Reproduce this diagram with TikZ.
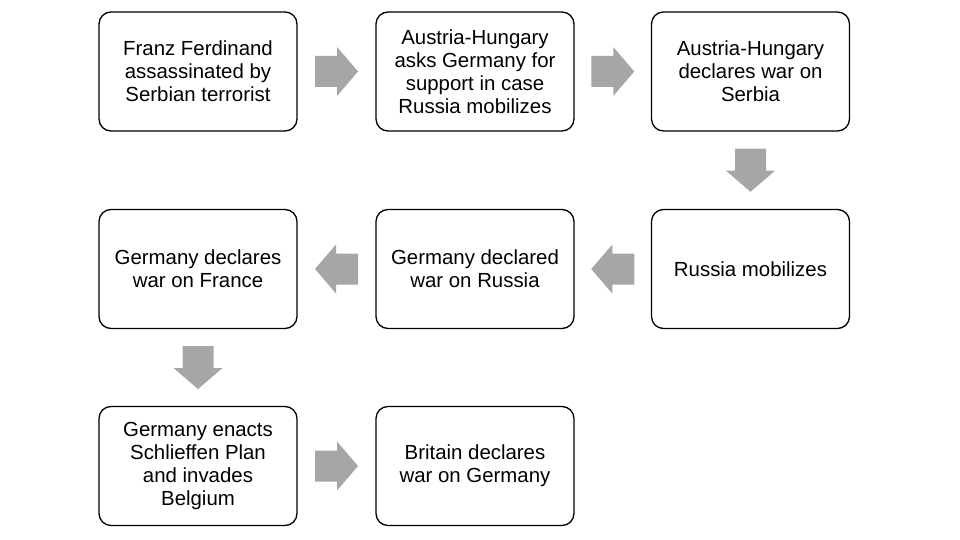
\documentclass[tikz,border=0pt]{standalone}
\usepackage{fontspec}
\setmainfont{Liberation Sans}
\usetikzlibrary{calc}
\definecolor{arrgray}{HTML}{A6A6A6}
\tikzset{
  x=1pt,y=-1pt,
  stepbox/.style={draw=black,line width=1.3pt,rounded corners=12pt,
    minimum width=198pt,minimum height=119pt,align=center,
    font=\fontsize{20.4pt}{23pt}\selectfont,inner sep=0pt},
  blockarrow/.pic={
    \fill[arrgray] (-21.5,-15.5) -- (0.5,-15.5) -- (0.5,-24.5) -- (21.5,0)
      -- (0.5,24.5) -- (0.5,15.5) -- (-21.5,15.5) -- cycle;
  }
}
\begin{document}
\begin{tikzpicture}
\useasboundingbox (0,0) rectangle (960,540);
\node[stepbox] (b1) at (198,71.5) {Franz Ferdinand\\assassinated by\\Serbian terrorist};
\node[stepbox] (b2) at (475,71.5) {Austria-Hungary\\asks Germany for\\support in case\\Russia mobilizes};
\node[stepbox] (b3) at (750.5,71.5) {Austria-Hungary\\declares war on\\Serbia};
\node[stepbox] (b4) at (750.5,269) {Russia mobilizes};
\node[stepbox] (b5) at (475,269) {Germany declared\\war on Russia};
\node[stepbox] (b6) at (198,269) {Germany declares\\war on France};
\node[stepbox] (b7) at (198,466) {Germany enacts\\Schlieffen Plan\\and invades\\Belgium};
\node[stepbox] (b8) at (475,466) {Britain declares\\war on Germany};
\pic at ($(b1.east)!0.5!(b2.west)$) {blockarrow};
\pic at ($(b2.east)!0.5!(b3.west)$) {blockarrow};
\pic[rotate=-90] at ($(b3.south)!0.5!(b4.north)$) {blockarrow};
\pic[rotate=180] at ($(b4.west)!0.5!(b5.east)$) {blockarrow};
\pic[rotate=180] at ($(b5.west)!0.5!(b6.east)$) {blockarrow};
\pic[rotate=-90] at ($(b6.south)!0.5!(b7.north)$) {blockarrow};
\pic at ($(b7.east)!0.5!(b8.west)$) {blockarrow};
\end{tikzpicture}
\end{document}
